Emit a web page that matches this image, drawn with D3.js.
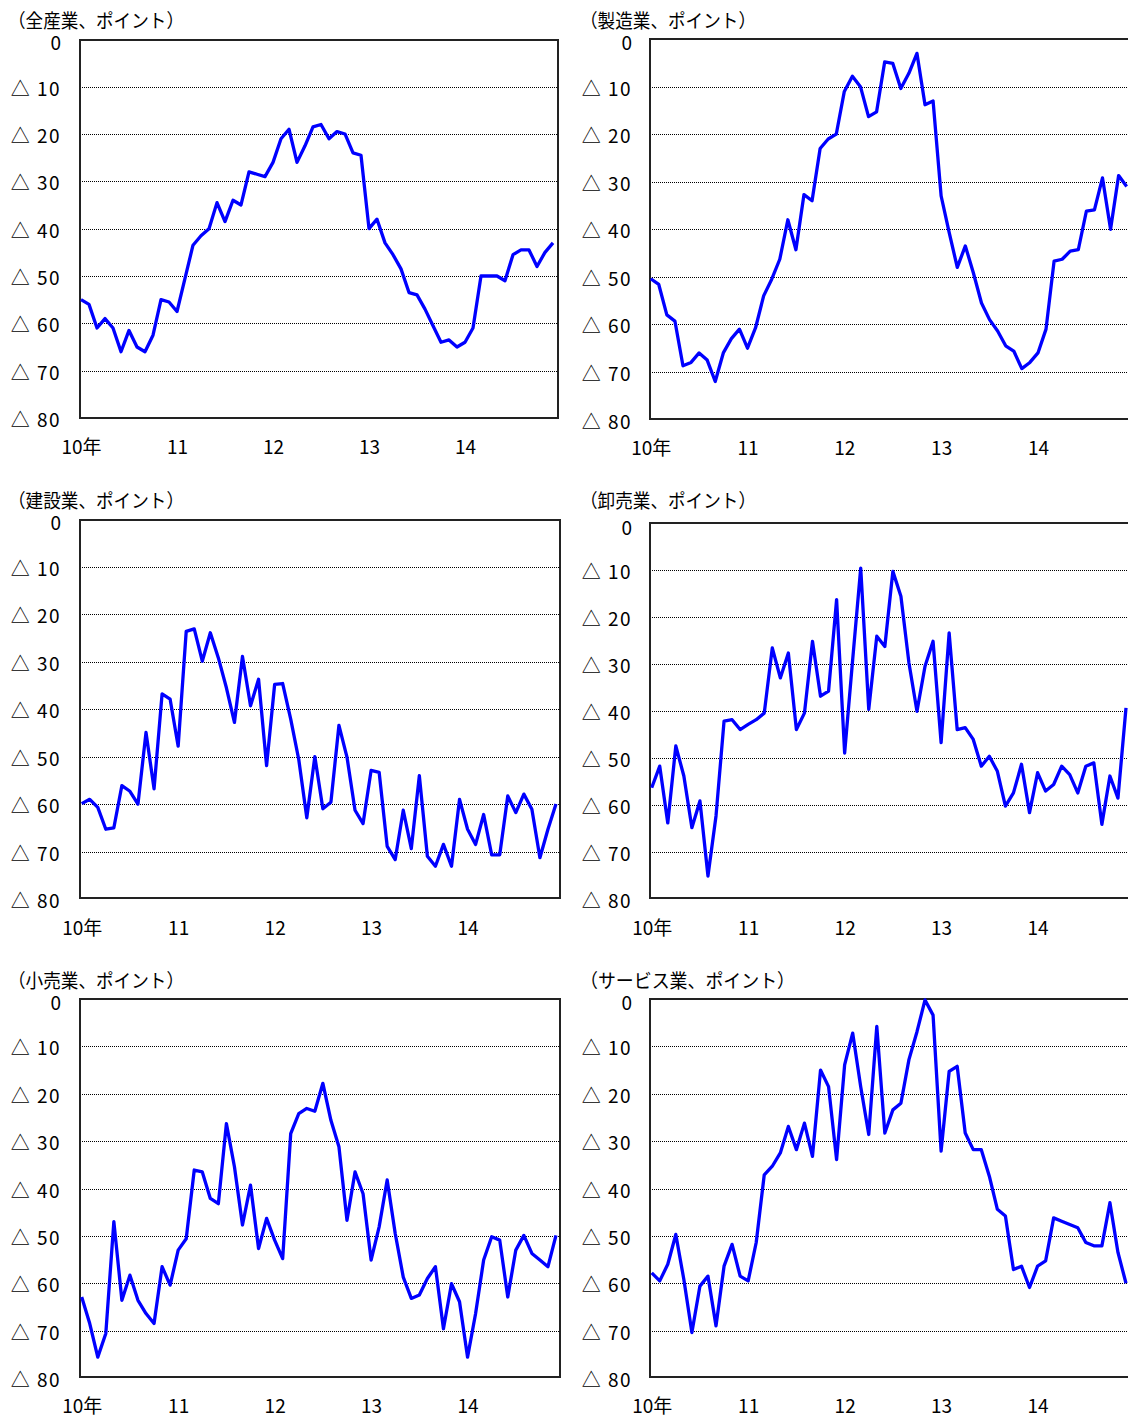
<!DOCTYPE html>
<html><head><meta charset="utf-8">
<script src="https://cdn.jsdelivr.net/npm/d3@7"></script>
<style>
body{margin:0;background:#fff;}
svg{display:block;}
text{font-family:"Noto Sans CJK JP","Noto Sans",sans-serif;fill:#000;}
</style></head><body>
<svg id="c" width="1128" height="1416"></svg>
<script>
// ---- data ----
const yearTicks = [0, 12, 24, 36, 48];
const yearLabels = ["10年", "11", "12", "13", "14"];
const yTicks = [0, -10, -20, -30, -40, -50, -60, -70, -80];
const titles = ["（全産業、ポイント）", "（製造業、ポイント）", "（建設業、ポイント）", "（卸売業、ポイント）", "（小売業、ポイント）", "（サービス業、ポイント）"];

const allIndustry = [-55,-56,-61,-59,-61,-66,-61.5,-65,-66,-62.5,-55,-55.5,-57.5,-50.5,-43.5,-41.5,-40,-34.5,-38.5,-34,-35,-28,-28.5,-29,-26,-21,-19,-26,-22.5,-18.5,-18,-21,-19.5,-20,-24,-24.5,-40,-38,-43,-45.5,-48.5,-53.5,-54,-57,-60.5,-64,-63.5,-65,-64,-61,-50,-50,-50,-51,-45.5,-44.5,-44.5,-48,-45,-43];
const manufacturing = [-50.4,-51.6,-58,-59.3,-68.7,-68,-66,-67.5,-72,-66,-63,-61,-65,-60.7,-54,-50.5,-46.3,-38,-44.3,-32.7,-34,-23,-21,-20,-11,-7.8,-10,-16.3,-15.3,-4.8,-5.1,-10.4,-7.2,-3,-13.8,-13,-33,-40.7,-48,-43.5,-49.2,-55.5,-59,-61.4,-64.5,-65.6,-69.3,-68,-66,-61,-46.7,-46.3,-44.6,-44.3,-36.2,-35.9,-29.2,-40,-28.7,-31];
const construction = [-59.9,-59,-60.7,-65.3,-65,-56.1,-57.3,-60,-44.9,-56.8,-36.8,-37.9,-47.8,-23.6,-23.1,-29.9,-23.9,-29.2,-35.5,-42.8,-28.9,-39.3,-33.7,-51.9,-34.8,-34.6,-42.1,-50.6,-62.9,-50,-61,-59.6,-43.4,-50.1,-61.3,-64.1,-52.9,-53.3,-68.9,-71.7,-61.3,-69.4,-54,-71,-73.1,-68.5,-73.1,-59,-65.3,-68.5,-62.2,-70.7,-70.7,-58.3,-61.8,-57.9,-61.1,-71.3,-65.3,-60];
const wholesale = [-56.3,-51.7,-63.8,-47.4,-53.8,-64.8,-59.1,-75.1,-62.3,-42.1,-41.8,-43.9,-42.8,-41.8,-40.4,-26.5,-32.9,-27.6,-43.9,-40.4,-25.1,-36.8,-35.7,-16.2,-48.9,-29,-9.5,-39.6,-24,-26.2,-10.2,-15.5,-29.7,-40,-30.4,-25.1,-46.7,-23.3,-43.9,-43.5,-46,-51.7,-49.6,-52.8,-60.2,-57.4,-51.3,-61.6,-53.1,-57,-55.6,-51.7,-53.5,-57.4,-51.7,-51,-64.1,-53.8,-58.5,-39.3];
const retail = [-62.9,-68.5,-75.6,-70.6,-47,-63.6,-58.3,-63.6,-66.4,-68.5,-56.5,-60.4,-53,-50.6,-36.1,-36.5,-42.1,-43.2,-26.3,-35.4,-47.7,-39.3,-52.7,-46.3,-50.9,-54.8,-28.4,-24.2,-23.1,-23.7,-17.8,-25.6,-31.2,-46.7,-36.5,-41.1,-55.1,-48.1,-38.2,-49.5,-58.7,-63.2,-62.5,-59,-56.5,-69.6,-60.1,-63.9,-75.6,-66.4,-55.1,-50.2,-50.9,-62.9,-53,-49.9,-53.7,-55.1,-56.5,-49.9];
const service = [-57.8,-59.5,-56,-49.7,-59.2,-70.4,-60.6,-58.5,-69,-56.4,-51.8,-58.5,-59.5,-51.4,-37.1,-35.3,-32.5,-26.9,-31.8,-26.2,-33.2,-15,-18.5,-33.9,-13.9,-7.2,-18.5,-28.6,-5.8,-28.3,-23.4,-22,-12.8,-6.9,-0.2,-3.4,-32.1,-15.3,-14.2,-28.3,-31.8,-31.8,-37.4,-44.4,-45.8,-57.1,-56.4,-60.9,-56.4,-55.3,-46.2,-46.9,-47.6,-48.3,-51.4,-52.1,-52.1,-43,-53.5,-60];

const seriesList = [allIndustry, manufacturing, construction, wholesale, retail, service];

// ---- layout ----
const layout = [
  {bx0: 80, bx1: 558, by0: 40, by1: 418, y0: 39.3, y80: 418, lx0: 81, lx1: 553, tx: 8, tw: 176, ty: 19, lr: 61, xly: 445},
  {bx0: 650, bx1: 1131, by0: 39, by1: 419, y0: 39.1, y80: 419.5, lx0: 650.7, lx1: 1126.7, tx: 580, tw: 176, ty: 19, lr: 632, xly: 446},
  {bx0: 80, bx1: 560, by0: 520, by1: 898, y0: 519.3, y80: 899, lx0: 81.7, lx1: 556, tx: 8, tw: 176, ty: 499, lr: 61, xly: 926},
  {bx0: 650, bx1: 1131, by0: 523, by1: 898, y0: 523.5, y80: 899, lx0: 651.7, lx1: 1126, tx: 580, tw: 176, ty: 499, lr: 632, xly: 926},
  {bx0: 80, bx1: 560, by0: 999, by1: 1377, y0: 999, y80: 1378, lx0: 81.7, lx1: 556, tx: 8, tw: 176, ty: 979, lr: 61, xly: 1404},
  {bx0: 650, bx1: 1131, by0: 999, by1: 1377, y0: 999, y80: 1378, lx0: 651.7, lx1: 1126, tx: 580, tw: 215, ty: 979, lr: 632, xly: 1404}
];

const svg = d3.select("#c");
const FS = 19;

seriesList.forEach((data, k) => {
  const L = layout[k];
  const g = svg.append("g");
  const x = d3.scaleLinear().domain([0, data.length - 1]).range([L.lx0, L.lx1]);
  const y = d3.scaleLinear().domain([0, -80]).range([L.y0, L.y80]);
  const yr = y.copy().interpolate(d3.interpolateRound);

  // gridlines (dotted)
  const grid = g.append("g").attr("transform", `translate(${L.bx0 + 2},0)`)
    .call(d3.axisLeft(yr).tickValues(yTicks.slice(1, -1)).tickSize(-(L.bx1 - L.bx0 - 2)).tickFormat(""));
  grid.select(".domain").remove();
  grid.selectAll(".tick line").attr("stroke", "#000").attr("stroke-width", 1)
    .attr("stroke-dasharray", "1,1").attr("shape-rendering", "crispEdges");

  // box
  g.append("rect").attr("x", L.bx0).attr("y", L.by0)
    .attr("width", L.bx1 - L.bx0).attr("height", L.by1 - L.by0)
    .attr("fill", "none").attr("stroke", "#222").attr("stroke-width", 2);

  // line
  g.append("path").datum(data)
    .attr("fill", "none").attr("stroke", "#0000ff").attr("stroke-width", 3.3)
    .attr("stroke-linejoin", "round")
    .attr("d", d3.line().x((d, i) => x(i)).y(d => y(d)));

  // y axis labels
  const ya = g.append("g").attr("transform", `translate(${L.lr},0)`)
    .call(d3.axisLeft(y).tickValues(yTicks).tickSize(0).tickPadding(0)
      .tickFormat(d => d === 0 ? "0" : "△ " + Math.abs(d)));
  ya.select(".domain").remove();
  ya.selectAll("text").attr("font-size", FS).attr("font-family", null)
    .attr("dy", null).attr("dominant-baseline", "central").attr("fill", "#000")
    .attr("letter-spacing", d => d === 0 ? null : "1.5px");
  ya.selectAll(".tick").filter(d => d === 0).select("text").attr("y", 2);

  // x axis labels
  const xa = g.append("g").attr("transform", `translate(0,${L.xly})`)
    .call(d3.axisBottom(x).tickValues(yearTicks).tickSize(0).tickPadding(0)
      .tickFormat((d, i) => yearLabels[i]));
  xa.select(".domain").remove();
  xa.selectAll("text").attr("font-size", FS).attr("font-family", null)
    .attr("y", 0).attr("dy", null).attr("dominant-baseline", "central").attr("fill", "#000");

  // title
  g.append("text").attr("x", L.tx).attr("y", L.ty)
    .attr("font-size", FS).attr("dominant-baseline", "central")
    .attr("textLength", L.tw).attr("lengthAdjust", "spacingAndGlyphs")
    .text(titles[k]);
});
</script>
</body></html>
